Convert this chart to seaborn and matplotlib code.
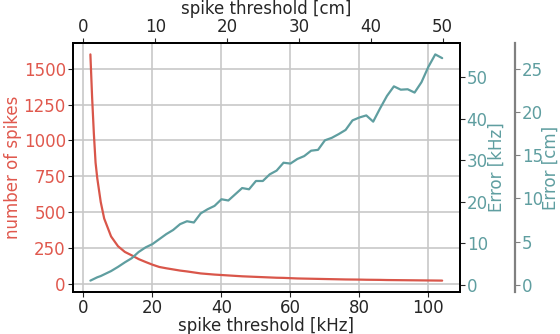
import matplotlib
matplotlib.use("Agg")
import matplotlib.pyplot as plt
import seaborn as sns
import pandas as pd

threshold_khz = [2, 2.5, 3, 3.5, 4, 5, 6, 8, 10, 12, 14, 16, 18, 20, 22, 24, 26, 28, 30, 32, 34, 36, 38, 40,
                 42, 44, 46, 48, 50, 52, 54, 56, 58, 60, 62, 64, 66, 68, 70, 72, 74, 76, 78, 80,
                 82, 84, 86, 88, 90, 92, 94, 96, 98, 100, 102, 104]
n_spikes = [1600, 1300, 1050, 845, 735, 570, 455, 330, 262, 222, 198, 172, 152, 133, 117, 108, 100, 92, 86, 79, 72, 68, 64, 61,
            58, 55, 52, 50, 48, 46, 44, 42, 41, 39, 37, 36, 35, 34, 33, 32, 31, 30, 29.5, 29,
            28, 27.5, 27, 26, 25.5, 25, 24.5, 24, 23.5, 23, 22.5, 22]
error_khz = [1.0, 1.2, 1.4, 1.6, 1.8, 2.1, 2.5, 3.3, 4.3, 5.4, 6.4, 7.9, 9.0, 9.8, 11.0, 12.2, 13.2, 14.6, 15.3, 15.0, 17.2, 18.2, 19.0, 20.6,
             20.3, 21.8, 23.3, 23.0, 25.0, 25.0, 26.6, 27.5, 29.4, 29.2, 30.3, 31.0, 32.3, 32.5, 34.8, 35.4, 36.3, 37.3, 39.6, 40.3,
             40.8, 39.3, 42.5, 45.5, 47.8, 47.0, 47.1, 46.3, 48.8, 52.5, 55.5, 54.6]
khz_to_cm = 0.48

left_ticks = [0, 250, 500, 750, 1000, 1250, 1500]
right_ticks = [0, 10, 20, 30, 40, 50]
cm_err_ticks = [0, 5, 10, 15, 20, 25]
bottom_ticks = [0, 20, 40, 60, 80, 100]
top_ticks = [0, 10, 20, 30, 40, 50]

RED = "#d9564a"
RED_LBL = "#e0584d"
TEAL = "#5f9ea0"
FS = 12

sns.set_style("ticks")
plt.rcParams["font.family"] = ["DejaVu Sans"]
plt.rcParams["axes.linewidth"] = 1.3

df = pd.DataFrame({"thr": threshold_khz, "n": n_spikes, "err": error_khz})

fig = plt.figure(figsize=(5.6, 3.34), dpi=100)
ax = fig.add_axes([0.130, 0.126, 0.691, 0.745])
sns.lineplot(data=df, x="thr", y="n", ax=ax, color=RED, lw=1.6)
ax.grid(True, color="#c8c8c8", lw=1.2)
ax.set_axisbelow(True)
ax.set_xticks(bottom_ticks)
ax.set_yticks(left_ticks)
ax.set_xlabel("spike threshold [kHz]", fontsize=FS, labelpad=0)
ax.set_ylabel("number of spikes", fontsize=FS, color=RED_LBL, labelpad=1)
ax.tick_params(axis="y", labelcolor=RED_LBL, labelsize=FS, length=3.5, pad=1.5)
ax.tick_params(axis="x", labelsize=FS, length=3.5, pad=1.5)
for s in ax.spines.values():
    s.set_color("black")

ax2 = ax.twinx()
sns.lineplot(data=df, x="thr", y="err", ax=ax2, color=TEAL, lw=1.6)
ax2.grid(False)
ax2.set_yticks(right_ticks)
ax2.set_ylabel("Error [kHz]", fontsize=FS, color=TEAL, labelpad=0)
ax2.tick_params(axis="y", labelcolor=TEAL, labelsize=FS, length=3.5, pad=1.5)
ax2.set_xlabel("")
for s in ax2.spines.values():
    s.set_color("black")

top = ax.secondary_xaxis("top", functions=(lambda k: k * khz_to_cm, lambda c: c / khz_to_cm))
top.set_xticks(top_ticks)
top.set_xlabel("spike threshold [cm]", fontsize=FS, labelpad=3)
top.tick_params(labelsize=FS, length=3.5, pad=1.5)

third = ax2.secondary_yaxis(1.142, functions=(lambda k: k * khz_to_cm, lambda c: c / khz_to_cm))
third.set_yticks(cm_err_ticks)
third.set_ylabel("Error [cm]", fontsize=FS, color=TEAL, labelpad=-0.5)
third.tick_params(axis="y", labelcolor=TEAL, color="gray", labelsize=FS, length=3.5, pad=1.5)
third.spines["right"].set_color("gray")
third.spines["right"].set_linewidth(1.6)

fig.savefig("out.png", dpi=100)
